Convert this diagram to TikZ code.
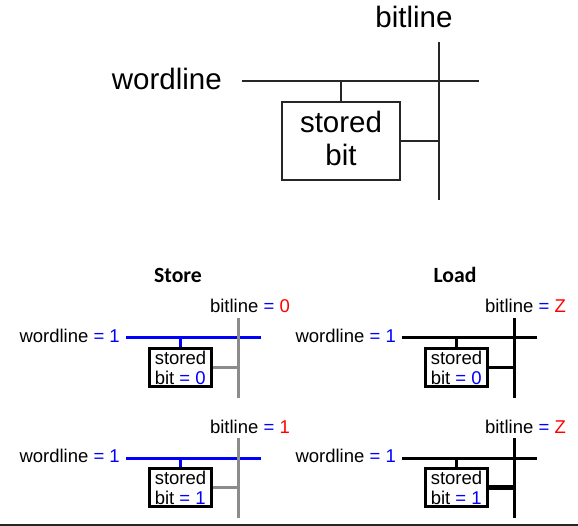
\documentclass[tikz,border=0pt]{standalone}
\usepackage{fontspec}
\setmainfont{Liberation Sans}
\newfontfamily\headfont{Carlito}
\definecolor{wire}{HTML}{262626}
\definecolor{bitgray}{HTML}{8C8C8C}
\tikzset{
  bigtext/.style={inner sep=0pt, font=\fontsize{29.5}{33}\selectfont},
  smalltext/.style={inner sep=0pt, font=\fontsize{18.5}{20}\selectfont},
  cellbox/.style={draw, line width=3pt, minimum width=62, minimum height=38, inner sep=1pt, align=left}
}
\begin{document}
\begin{tikzpicture}[x=1pt,y=-1pt]
\useasboundingbox (0,0) rectangle (578,526);
% overview cell
\coordinate (wlA) at (242,81);
\coordinate (wlB) at (479,81);
\coordinate (blA) at (439,42);
\coordinate (blB) at (439,200);
\draw[wire, line width=2pt] (wlA) -- (wlB);
\draw[wire, line width=2pt] (blA) -- (blB);
\node[draw=wire, line width=2pt, minimum width=118, minimum height=78, bigtext, align=center, text depth=5pt] (cell) at (341,141) {stored\\bit};
\draw[wire, line width=2pt] (cell.north) -- (cell.north |- wlA);
\draw[wire, line width=2pt] (cell.east) -- (cell.east -| blA);
\node[bigtext, anchor=base east] (wltext) at (222,90) {wordline};
\node[bigtext, anchor=base] (bltext) at (414,28) {bitline};
% store / load
\node[inner sep=0pt, anchor=base, font=\headfont\bfseries\fontsize{21.7}{24}\selectfont] (store) at (178,283) {Store};
\node[inner sep=0pt, anchor=base, font=\headfont\bfseries\fontsize{21.7}{24}\selectfont] (load) at (455,283) {Load};
\foreach \dx/\wcol/\bcol/\vtop/\vbot [count=\c] in {0/blue/bitgray/0/1, 276/black/black/Z/Z}
{
    \foreach \dy/\bval/\lval in {0/0/\vtop, 120/1/\vbot}
    {
        \coordinate (wl\c\bval a) at (126+\dx,338+\dy);
        \coordinate (wl\c\bval b) at (261+\dx,338+\dy);
        \coordinate (bl\c\bval a) at (238+\dx,318+\dy);
        \coordinate (bl\c\bval b) at (238+\dx,398+\dy);
        \draw[\wcol, line width=3pt] (wl\c\bval a) -- (wl\c\bval b);
        \draw[\bcol, line width=3pt] (bl\c\bval a) -- (bl\c\bval b);
        \node[cellbox, smalltext, inner sep=1pt] (box\c\bval) at (180.5+\dx,367.5+\dy) {stored\\bit {\color{blue}= \bval}};
        \draw[\wcol, line width=3pt] (box\c\bval.north) -- (box\c\bval.north |- wl\c\bval a);
        \draw[\bcol, line width=3pt] (box\c\bval.east) -- (box\c\bval.east -| bl\c\bval a);
        \node[smalltext, anchor=base east] (wt\c\bval) at (120+\dx,342+\dy) {wordline {\color{blue}= 1}};
        \node[smalltext, anchor=base east] (bt\c\bval) at (290+\dx,313+\dy) {bitline {\color{blue}=} {\color{red}\lval}};
    }
}
\draw[black, line width=4.5pt] (box21.east) -- (box21.east -| bl21a);
% bottom rule
\coordinate (ruleA) at (0,525);
\coordinate (ruleB) at (578,525);
\draw[wire, line width=1.5pt] (ruleA) -- (ruleB);
\end{tikzpicture}
\end{document}
